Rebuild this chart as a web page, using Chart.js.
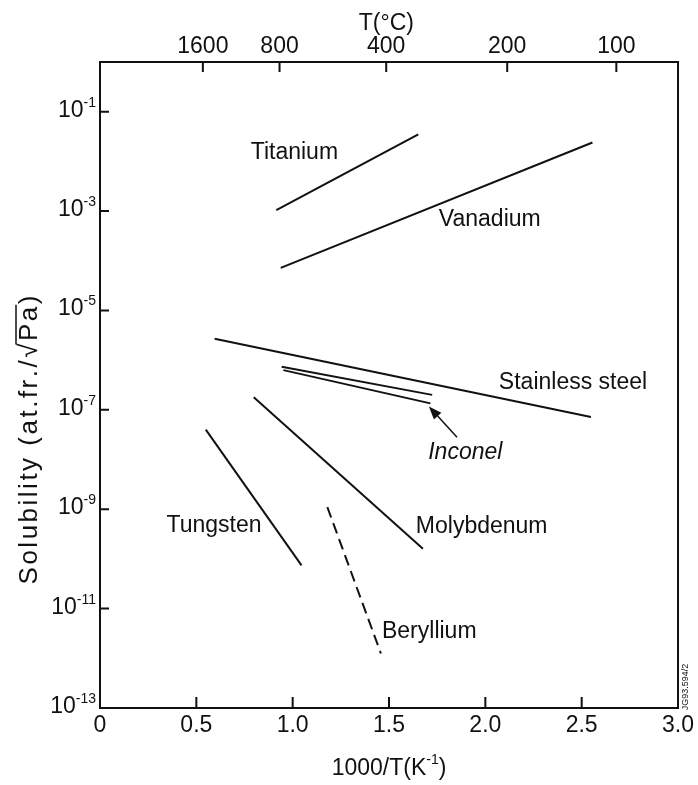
<!DOCTYPE html>
<html>
<head>
<meta charset="utf-8">
<script src="https://cdn.jsdelivr.net/npm/chart.js@4.4.1/dist/chart.umd.min.js"></script>
<style>
  html, body { margin: 0; padding: 0; background: #fff; }
  #wrap { width: 698px; height: 785px; position: relative; }
</style>
</head>
<body>
<div id="wrap"><canvas id="chart"></canvas></div>
<script>
const FONT = '"Liberation Sans", Arial, Helvetica, sans-serif';
const INK = '#111';

// x = 1000/T (K^-1), y = solubility (at.fr./sqrt(Pa))
const titaniumX = [0.915, 1.652];
const titaniumY = [1.05e-3, 3.5e-2];
const vanadiumX = [0.938, 2.556];
const vanadiumY = [7.2e-5, 2.4e-2];
const stainlessX = [0.595, 2.548];
const stainlessY = [2.7e-6, 7.2e-8];
const inconelUpperX = [0.943, 1.724];
const inconelUpperY = [7.4e-7, 2.0e-7];
const inconelLowerX = [0.952, 1.715];
const inconelLowerY = [6.3e-7, 1.35e-7];
const molybdenumX = [0.798, 1.676];
const molybdenumY = [1.8e-7, 1.6e-10];
const tungstenX = [0.549, 1.046];
const tungstenY = [4.0e-8, 7.4e-11];
const berylliumX = [1.18, 1.458];
const berylliumY = [1.1e-9, 1.25e-12];

// arrow from the Inconel label to the lower Inconel line (tail, head)
const arrowX = [1.853, 1.707];
const arrowY = [2.8e-8, 1.17e-7];

// axes
const xTickValues = [0, 0.5, 1.0, 1.5, 2.0, 2.5, 3.0];
const xTickLabels = ['0', '0.5', '1.0', '1.5', '2.0', '2.5', '3.0'];
const topTempC = [1600, 800, 400, 200, 100];
const topTickLabels = ['1600', '800', '400', '200', '100'];
const yExponents = [-1, -3, -5, -7, -9, -11, -13];

// curve names: text, anchor x (1000/T), anchor y (solubility)
const curveNames = [
  { text: 'Titanium', x: 1.009, y: 1.48e-2 },
  { text: 'Vanadium', x: 2.023, y: 6.6e-4 },
  { text: 'Stainless steel', x: 2.455, y: 3.6e-7 },
  { text: 'Inconel', x: 1.896, y: 1.4e-8, italic: true },
  { text: 'Molybdenum', x: 1.981, y: 4.4e-10 },
  { text: 'Tungsten', x: 0.592, y: 4.6e-10 },
  { text: 'Beryllium', x: 1.709, y: 3.4e-12 }
];

function pts(xs, ys) {
  return xs.map((v, i) => ({ x: v, y: ys[i] }));
}

function curve(label, xs, ys, dash) {
  return {
    label,
    data: pts(xs, ys),
    showLine: true,
    borderColor: INK,
    borderWidth: 2,
    borderDash: dash || [],
    pointRadius: 0,
    fill: false
  };
}

// draws a string glyph by glyph with extra spacing, returns end x
function spaced(ctx, str, x0, y0, gap) {
  let cx = x0;
  for (const ch of str) {
    ctx.fillText(ch, cx, y0);
    cx += ctx.measureText(ch).width + gap;
  }
  return cx;
}

function spacedWidth(ctx, str, gap) {
  let w = 0;
  for (const ch of str) w += ctx.measureText(ch).width + gap;
  return w;
}

const decorations = {
  id: 'decorations',
  afterDraw(chart) {
    const { ctx, chartArea: a, scales: { x, x2, y } } = chart;
    ctx.save();
    ctx.strokeStyle = INK;
    ctx.fillStyle = INK;

    // frame
    ctx.lineWidth = 2;
    ctx.strokeRect(a.left, a.top, a.right - a.left, a.bottom - a.top);

    // inward tick marks
    ctx.beginPath();
    x.ticks.forEach(t => {
      if (t.value <= x.min || t.value >= x.max) return;
      const px = x.getPixelForValue(t.value);
      ctx.moveTo(px, a.bottom);
      ctx.lineTo(px, a.bottom - 11);
    });
    x2.ticks.forEach(t => {
      const px = x2.getPixelForValue(t.value);
      ctx.moveTo(px, a.top);
      ctx.lineTo(px, a.top + 10);
    });
    y.ticks.forEach(t => {
      if (t.value <= y.min * 1.01) return;
      const py = y.getPixelForValue(t.value);
      ctx.moveTo(a.left, py);
      ctx.lineTo(a.left + 9, py);
    });
    ctx.stroke();

    // y tick labels 10^n
    ctx.textBaseline = 'alphabetic';
    yExponents.forEach(e => {
      const py = y.getPixelForValue(Math.pow(10, e));
      const sup = '-' + Math.abs(e);
      ctx.font = '14px ' + FONT;
      const supW = ctx.measureText(sup).width;
      const right = a.left - 4;
      ctx.textAlign = 'left';
      ctx.fillText(sup, right - supW, py - 5);
      ctx.font = '23px ' + FONT;
      ctx.textAlign = 'right';
      ctx.fillText('10', right - supW, py + 5);
    });

    // curve names
    ctx.textAlign = 'center';
    ctx.textBaseline = 'middle';
    curveNames.forEach(n => {
      ctx.font = (n.italic ? 'italic ' : '') + '23px ' + FONT;
      ctx.fillText(n.text, x.getPixelForValue(n.x), y.getPixelForValue(n.y));
    });

    // arrow to Inconel
    const tx = x.getPixelForValue(arrowX[0]), ty = y.getPixelForValue(arrowY[0]);
    const hx = x.getPixelForValue(arrowX[1]), hy = y.getPixelForValue(arrowY[1]);
    const ang = Math.atan2(hy - ty, hx - tx);
    const hl = 13, hw = 5;
    const bx = hx - hl * Math.cos(ang), by = hy - hl * Math.sin(ang);
    ctx.lineWidth = 1.5;
    ctx.beginPath();
    ctx.moveTo(tx, ty);
    ctx.lineTo(bx, by);
    ctx.stroke();
    ctx.beginPath();
    ctx.moveTo(hx, hy);
    ctx.lineTo(bx + hw * Math.sin(ang), by - hw * Math.cos(ang));
    ctx.lineTo(bx - hw * Math.sin(ang), by + hw * Math.cos(ang));
    ctx.closePath();
    ctx.fill();

    // top title T(°C)
    const cx = (a.left + a.right) / 2;
    ctx.font = '23px ' + FONT;
    ctx.textAlign = 'center';
    ctx.textBaseline = 'alphabetic';
    ctx.fillText('T(°C)', x2.getPixelForValue(1.486), 30);

    // bottom title 1000/T(K^-1)
    ctx.textAlign = 'left';
    const p1 = '1000/T(K', p3 = ')';
    ctx.font = '14px ' + FONT;
    const w2 = ctx.measureText('-1').width;
    ctx.font = '23px ' + FONT;
    const w1 = ctx.measureText(p1).width, w3 = ctx.measureText(p3).width;
    const sx = cx - (w1 + w2 + w3) / 2;
    const by0 = 775;
    ctx.fillText(p1, sx, by0);
    ctx.font = '14px ' + FONT;
    ctx.fillText('-1', sx + w1, by0 - 11);
    ctx.font = '23px ' + FONT;
    ctx.fillText(p3, sx + w1 + w2, by0);

    // y title Solubility (at.fr./√Pa) with radical bar
    ctx.save();
    ctx.translate(37, 440);
    ctx.rotate(-Math.PI / 2);
    ctx.font = '26px ' + FONT;
    ctx.textAlign = 'left';
    const gap = 2.5;
    const s1 = 'Solubility (at.fr./\u221A', s2 = 'Pa', s3 = ')';
    const total = spacedWidth(ctx, s1 + s2 + s3, gap) - gap;
    const e1 = spaced(ctx, s1, -total / 2, 0, gap);
    const e2 = spaced(ctx, s2, e1, 0, gap);
    spaced(ctx, s3, e2, 0, gap);
    ctx.lineWidth = 1.5;
    ctx.beginPath();
    ctx.moveTo(e1 - gap - 1, -21);
    ctx.lineTo(e2 - gap + 2, -21);
    ctx.stroke();
    ctx.restore();

    // figure reference
    ctx.save();
    ctx.translate(a.right + 8, 687);
    ctx.rotate(-Math.PI / 2);
    ctx.font = '9px ' + FONT;
    ctx.textAlign = 'center';
    ctx.textBaseline = 'middle';
    ctx.fillText('JG93.594/2', 0, 0);
    ctx.restore();

    ctx.restore();
  }
};

new Chart(document.getElementById('chart'), {
  type: 'scatter',
  data: {
    datasets: [
      curve('Titanium', titaniumX, titaniumY),
      curve('Vanadium', vanadiumX, vanadiumY),
      curve('Stainless steel', stainlessX, stainlessY),
      curve('Inconel', inconelUpperX, inconelUpperY),
      curve('Inconel', inconelLowerX, inconelLowerY),
      curve('Molybdenum', molybdenumX, molybdenumY),
      curve('Tungsten', tungstenX, tungstenY),
      curve('Beryllium', berylliumX, berylliumY, [11, 6])
    ]
  },
  options: {
    responsive: true,
    maintainAspectRatio: false,
    animation: false,
    layout: { padding: { left: 0, right: 16, top: 0, bottom: 0 } },
    plugins: { legend: { display: false }, tooltip: { enabled: false } },
    scales: {
      x: {
        type: 'linear',
        position: 'bottom',
        min: 0,
        max: 3,
        afterBuildTicks: s => { s.ticks = xTickValues.map(v => ({ value: v })); },
        afterFit: s => { s.height = 77; },
        grid: { display: false, drawTicks: false },
        border: { display: false },
        ticks: {
          padding: 4,
          color: INK,
          font: { family: FONT, size: 23 },
          callback: (v, i) => xTickLabels[i]
        }
      },
      x2: {
        type: 'linear',
        position: 'top',
        min: 0,
        max: 3,
        afterBuildTicks: s => { s.ticks = topTempC.map(t => ({ value: 1000 / (t + 273.15) })); },
        afterFit: s => { s.height = 62; },
        grid: { display: false, drawTicks: false },
        border: { display: false },
        ticks: {
          padding: 2,
          color: INK,
          font: { family: FONT, size: 23 },
          callback: (v, i) => topTickLabels[i]
        }
      },
      y: {
        type: 'logarithmic',
        position: 'left',
        min: 1e-13,
        max: 1,
        afterBuildTicks: s => { s.ticks = yExponents.map(e => ({ value: Math.pow(10, e) })); },
        afterFit: s => { s.width = 100; },
        grid: { display: false, drawTicks: false },
        border: { display: false },
        ticks: { display: false }
      }
    }
  },
  plugins: [decorations]
});
</script>
</body>
</html>
